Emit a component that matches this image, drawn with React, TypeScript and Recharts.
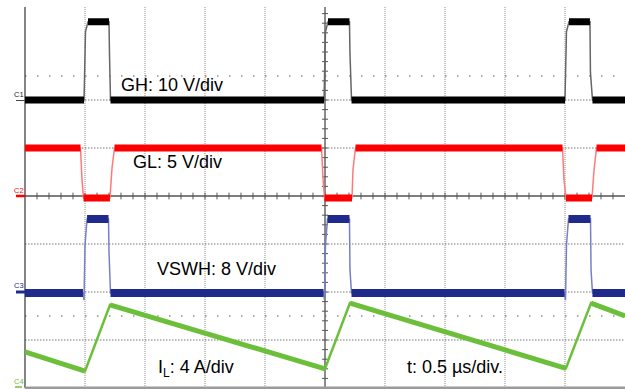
import React from "react";
import { LineChart, Line, XAxis, YAxis, ReferenceLine } from "recharts";

// time in µs (0.5 µs/div), level in screen divisions (0 = bottom graticule)
const ghTrace: [number, number][] = [
  [0, 6.0], [0.492, 6.0], [0.504, 7.42], [0.525, 7.63], [0.7, 7.63], [0.704, 6.98], [0.7125, 6.0],
  [2.492, 6.0], [2.504, 7.42], [2.525, 7.63], [2.704, 7.63], [2.708, 6.98], [2.721, 6.0],
  [4.5, 6.0], [4.512, 7.42], [4.533, 7.63], [4.708, 7.63], [4.712, 6.58], [4.729, 6.0],
  [5, 6.0],
];

const glTrace: [number, number][] = [
  [0, 5.0], [0.4625, 5.0], [0.475, 4.33], [0.4875, 3.96], [0.708, 3.96], [0.725, 4.58], [0.746, 5.0],
  [2.471, 5.0], [2.483, 4.375], [2.496, 3.96], [2.725, 3.96], [2.733, 4.54], [2.754, 5.0],
  [4.479, 5.0], [4.492, 4.33], [4.508, 3.96], [4.725, 3.96], [4.742, 4.54], [4.7625, 5.0],
  [5, 5.0],
];

const vswhTrace: [number, number][] = [
  [0, 1.98], [0.483, 1.98], [0.492, 1.83], [0.5, 2.98], [0.517, 3.52], [0.696, 3.52], [0.7, 2.83], [0.7125, 1.98],
  [2.4875, 1.98], [2.496, 1.83], [2.504, 2.98], [2.521, 3.52], [2.704, 3.52], [2.708, 2.46], [2.721, 1.98],
  [4.496, 1.98], [4.504, 1.83], [4.5125, 2.98], [4.529, 3.52], [4.7125, 3.52], [4.717, 2.46], [4.729, 1.98],
  [5, 1.98],
];

const ilTrace: [number, number][] = [
  [0, 0.75], [0.5, 0.35], [0.708, 1.73], [2.5, 0.40], [2.708, 1.77], [4.508, 0.41], [4.717, 1.77], [5, 1.5],
];

const dottedX = [0.5, 1, 1.5, 2, 3, 3.5, 4, 4.5];
const centerX = 2.5;
const dottedY = [1, 2, 3, 5, 6];
const centerY = 4;
const markerRowsY = [1.5, 6.5];
const gridTop = 7.94;
const minorTicksX = Array.from({ length: 49 }, (_, i) => (i + 1) / 10);
const minorTicksY = Array.from({ length: 39 }, (_, i) => (i + 1) / 5);

const toRows = (p: [number, number][]) => p.map(([t, d]) => ({ t, d }));

// thick noisy band only over the slow (flat / ramp) parts of a trace
const band = (p: [number, number][], maxSlope = 2) => {
  const out: { t: number; d: number | null }[] = [];
  for (let i = 0; i < p.length - 1; i++) {
    const [t0, d0] = p[i];
    const [t1, d1] = p[i + 1];
    const slope = Math.abs((d1 - d0) / (t1 - t0 || 1e-6));
    if (slope < maxSlope) {
      out.push({ t: t0, d: d0 }, { t: t1, d: d1 });
    } else {
      out.push({ t: (t0 + t1) / 2, d: null });
    }
  }
  return out;
};

const channels = [
  { name: "GH", data: ghTrace, color: "#000000", edge: "#666666", width: 7 },
  { name: "GL", data: glTrace, color: "#ff0000", edge: "#ff7a7a", width: 7 },
  { name: "VSWH", data: vswhTrace, color: "#1f2a8c", edge: "#7780c4", width: 8 },
  { name: "IL", data: ilTrace, color: "#6cbf3a", edge: "#6cbf3a", width: 5 },
];

const font = "'Liberation Sans', Arial, Helvetica, sans-serif";

export default function App() {
  return (
    <div style={{ position: "absolute", left: 0, top: 0, width: 625, height: 389, background: "#fff" }}>
      <LineChart width={625} height={389} margin={{ top: 4, right: 0, bottom: 1, left: 25 }}>
        <XAxis type="number" dataKey="t" domain={[0, 5]} hide allowDataOverflow />
        <YAxis type="number" dataKey="d" domain={[0, 8]} hide allowDataOverflow />
        {dottedX.map((x) => (
          <ReferenceLine key={"vx" + x} segment={[{ x, y: 0 }, { x, y: gridTop }]} stroke="#8a8a8a" strokeDasharray="1 1" strokeWidth={1} />
        ))}
        {dottedY.map((y) => (
          <ReferenceLine key={"hy" + y} y={y} stroke="#777" strokeDasharray="1.5 1.5" strokeWidth={1} />
        ))}
        {markerRowsY.map((y) => (
          <ReferenceLine key={"my" + y} y={y} stroke="#555" strokeDasharray="1.5 10.5" strokeWidth={1.2} />
        ))}
        <ReferenceLine y={centerY} stroke="#555" strokeWidth={1.5} />
        <ReferenceLine segment={[{ x: centerX, y: 0 }, { x: centerX, y: gridTop }]} stroke="#666" strokeWidth={1.5} />
        {minorTicksX.map((x) => (
          <ReferenceLine key={"tx" + x} segment={[{ x, y: centerY - 0.07 }, { x, y: centerY + 0.07 }]} stroke="#555" strokeWidth={1} />
        ))}
        {minorTicksY.map((y) => (
          <ReferenceLine key={"ty" + y} segment={[{ x: centerX - 0.025, y }, { x: centerX + 0.025, y }]} stroke="#555" strokeWidth={1} />
        ))}
        <ReferenceLine segment={[{ x: 0, y: 0 }, { x: 0, y: gridTop }]} stroke="#333" strokeWidth={1.2} />
        <ReferenceLine y={0} stroke="#9a9a9a" strokeWidth={3} />
        {channels.map((c) => (
          <Line
            key={c.name + "-edge"}
            name={c.name}
            data={toRows(c.data)}
            dataKey="d"
            type="linear"
            stroke={c.edge}
            strokeWidth={c.name === "IL" ? 2.5 : 1.5}
            dot={false}
            activeDot={false}
            isAnimationActive={false}
          />
        ))}
        {channels.map((c) => (
          <Line
            key={c.name + "-band"}
            name={c.name + " noise"}
            data={band(c.data)}
            dataKey="d"
            type="linear"
            stroke={c.color}
            strokeWidth={c.width}
            strokeLinecap="butt"
            dot={false}
            activeDot={false}
            isAnimationActive={false}
          />
        ))}
      </LineChart>
      <svg width={625} height={389} style={{ position: "absolute", left: 0, top: 0, pointerEvents: "none" }}>
        <g fontFamily={font} fontSize={18} fill="#000">
          <text x={121} y={91}>GH: 10 V/div</text>
          <text x={133} y={168}>GL: 5 V/div</text>
          <text x={157} y={275}>VSWH: 8 V/div</text>
          <text x={158} y={373}>
            I<tspan fontSize={12} dy={4}>L</tspan><tspan dy={-4}>: 4 A/div</tspan>
          </text>
          <text x={503} y={373} textAnchor="end">t: 0.5 µs/div.</text>
        </g>
        <g fontFamily={font} fontSize={7.5}>
          <text x={14} y={97} fill="#222">C1</text>
          <line x1={16} y1={100.5} x2={25} y2={100.5} stroke="#444" strokeWidth={1} />
          <text x={14} y={193} fill="#ff0000">C2</text>
          <line x1={16} y1={196} x2={25} y2={196} stroke="#ff0000" strokeWidth={2.5} />
          <text x={14} y={288} fill="#1f2a8c">C3</text>
          <line x1={16} y1={292} x2={25} y2={292} stroke="#1f2a8c" strokeWidth={3} />
          <text x={14} y={384} fill="#6cbf3a">C4</text>
          <line x1={15} y1={387} x2={22} y2={387} stroke="#6cbf3a" strokeWidth={1.5} />
        </g>
      </svg>
    </div>
  );
}
